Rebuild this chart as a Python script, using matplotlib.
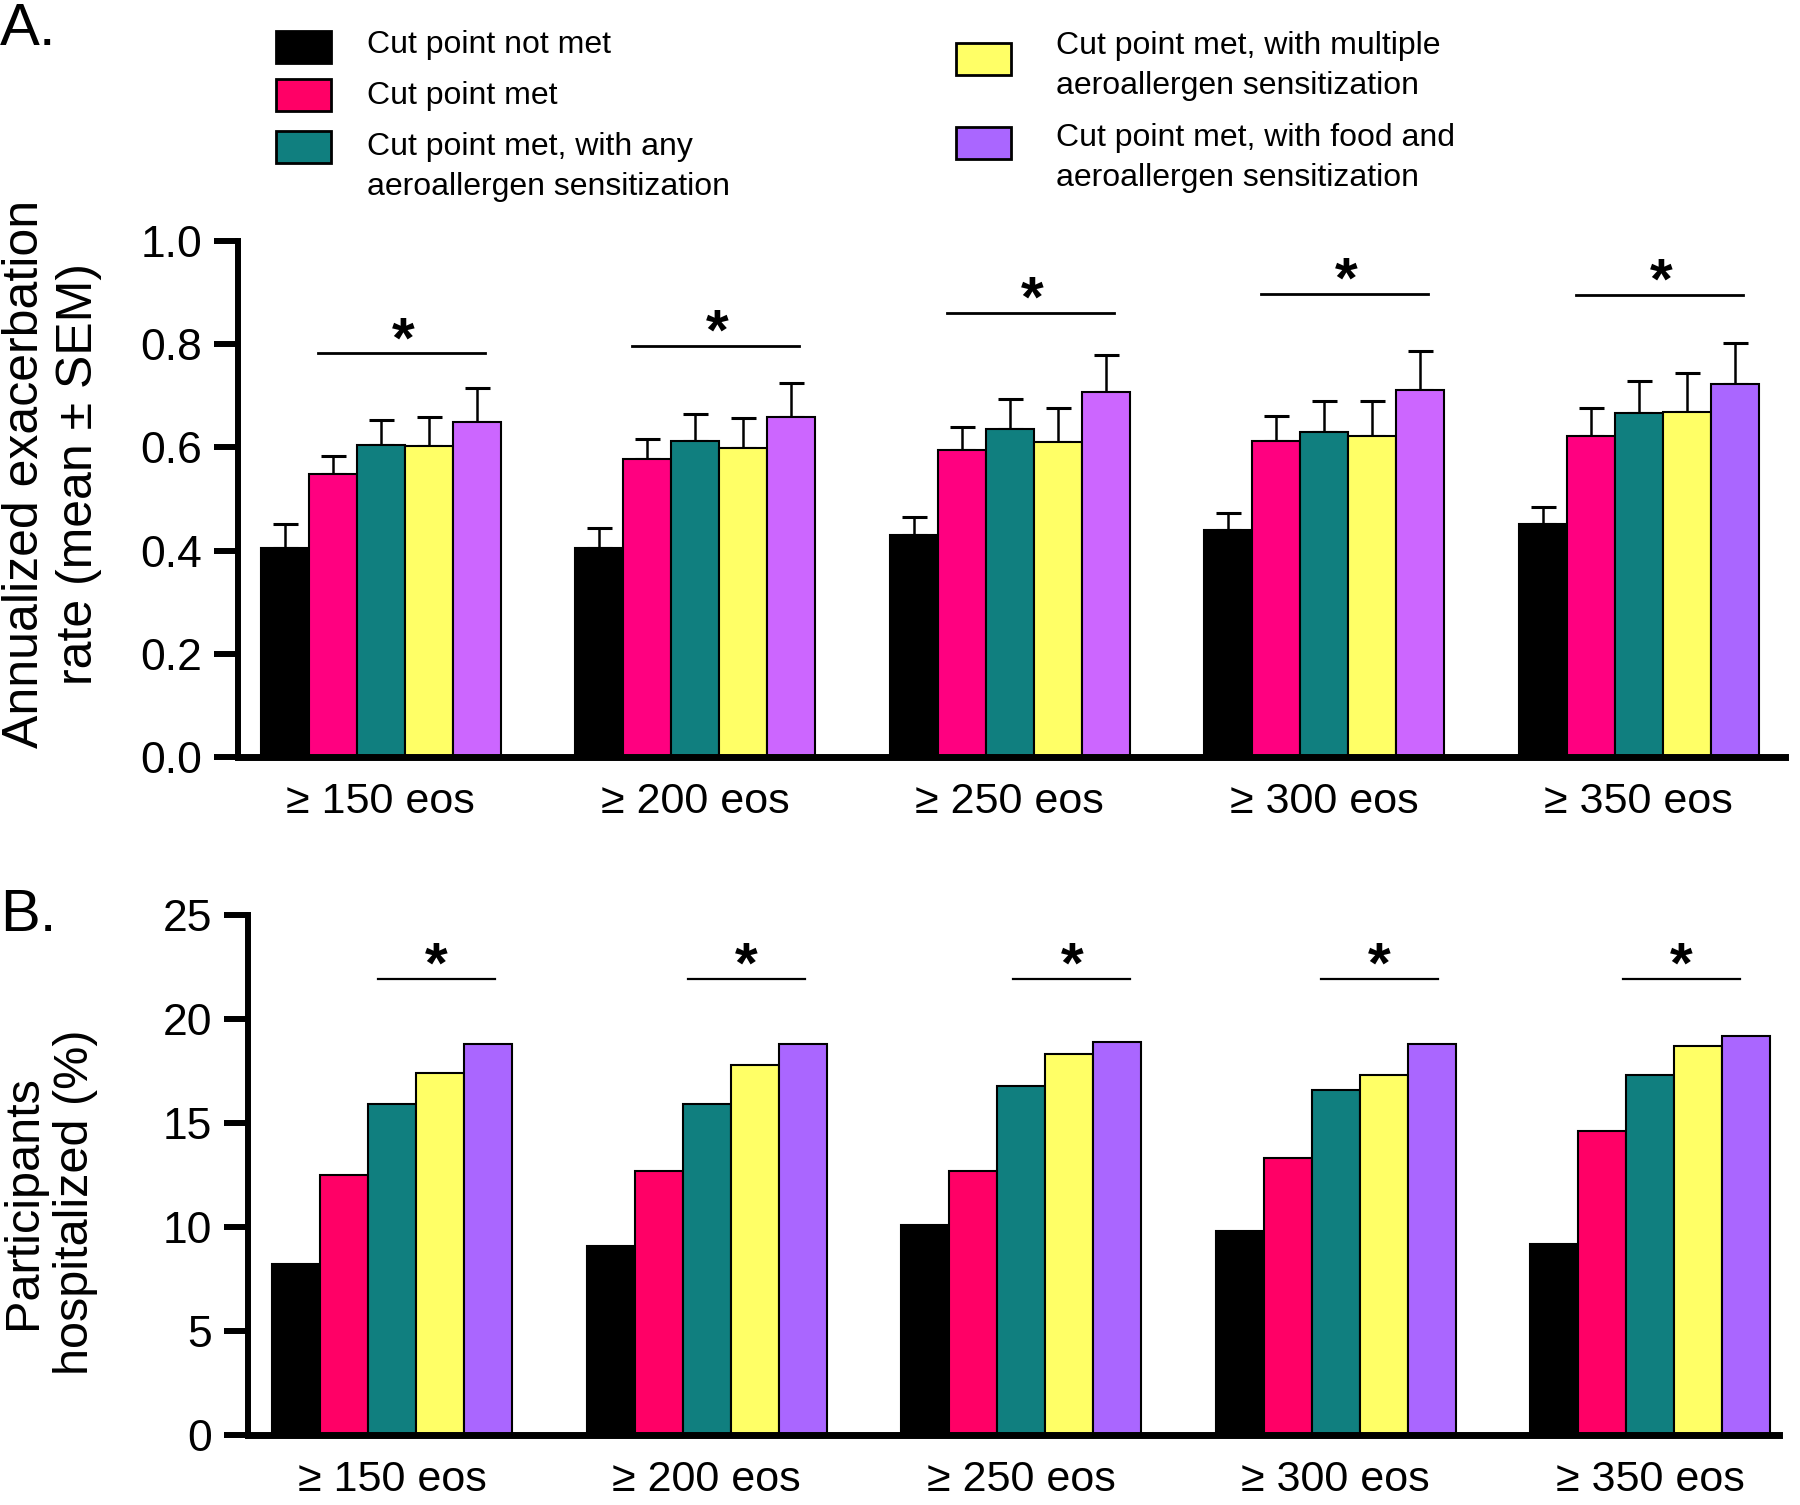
import numpy as np
import matplotlib
matplotlib.use('Agg')
from matplotlib import pyplot as plt
from matplotlib.patches import Rectangle

plt.rcParams['font.family'] = ['Liberation Sans', 'DejaVu Sans']

# groups on the x axis
groups = ['\u2265 150 eos', '\u2265 200 eos', '\u2265 250 eos', '\u2265 300 eos', '\u2265 350 eos']

series_names = ['Cut point not met',
                'Cut point met',
                'Cut point met, with any\naeroallergen sensitization',
                'Cut point met, with multiple\naeroallergen sensitization',
                'Cut point met, with food and\naeroallergen sensitization']

# panel A: annualized exacerbation rate (mean) and SEM
rate_not_met = [0.405, 0.405, 0.430, 0.440, 0.451]
rate_met = [0.548, 0.577, 0.594, 0.612, 0.623]
rate_any = [0.605, 0.613, 0.636, 0.630, 0.666]
rate_multi = [0.602, 0.599, 0.611, 0.623, 0.669]
rate_food = [0.650, 0.659, 0.707, 0.712, 0.723]

sem_not_met = [0.046, 0.038, 0.035, 0.033, 0.034]
sem_met = [0.035, 0.040, 0.045, 0.049, 0.053]
sem_any = [0.049, 0.052, 0.058, 0.059, 0.063]
sem_multi = [0.057, 0.058, 0.065, 0.067, 0.075]
sem_food = [0.065, 0.066, 0.073, 0.075, 0.079]

# significance bar heights, panel A
sig_a = [0.782, 0.797, 0.860, 0.898, 0.896]

# panel B: participants hospitalized (%)
hosp_not_met = [8.2, 9.1, 10.1, 9.8, 9.2]
hosp_met = [12.5, 12.7, 12.7, 13.3, 14.6]
hosp_any = [15.9, 15.9, 16.8, 16.6, 17.3]
hosp_multi = [17.4, 17.8, 18.3, 17.3, 18.7]
hosp_food = [18.8, 18.8, 18.9, 18.8, 19.2]

sig_b = [21.9, 21.9, 21.9, 21.9, 21.9]

# colours
colors_a = ['#000000', '#FF0080', '#107F7F', '#FFFF66', '#CC66FF']
colors_b = ['#000000', '#FF0066', '#107F7F', '#FFFF66', '#AA66FF']
food_a_colors = ['#CC66FF', '#CC66FF', '#CC66FF', '#CC66FF', '#AA66FF']

W, H = 1800, 1505
fig = plt.figure(figsize=(W / 100, H / 100), dpi=100)

x = np.arange(len(groups))
bw = 0.1526
offsets = (np.arange(5) - 2) * bw
# start of the significance line in panel B, relative to group centre
sig_b_start = [-0.046, -0.06, -0.024, -0.047, -0.086]


def style_axis(ax):
    for s in ['top', 'right']:
        ax.spines[s].set_visible(False)
    ax.spines['left'].set_linewidth(4.3)
    ax.spines['bottom'].set_linewidth(5)
    ax.tick_params(axis='y', length=17, width=4.3, pad=9, labelsize=32)
    ax.tick_params(axis='x', length=0, pad=18, labelsize=31)
    ax.set_xticks(x)
    ax.set_xticklabels(groups)


# ---- panel A ----
axA = fig.add_axes([238 / W, 1 - 757 / H, (1785 - 238) / W, (757 - 241) / H])
rates = [rate_not_met, rate_met, rate_any, rate_multi, rate_food]
sems = [sem_not_met, sem_met, sem_any, sem_multi, sem_food]
for i in range(5):
    cols = food_a_colors if i == 4 else colors_a[i]
    axA.bar(x + offsets[i], rates[i], bw, color=cols, edgecolor='black',
            linewidth=1.5, zorder=2)
    axA.errorbar(x + offsets[i], rates[i],
                 yerr=[np.zeros(len(groups)), sems[i]],
                 fmt='none', ecolor='black', elinewidth=1.8, capsize=9,
                 capthick=2.2, zorder=1)
for j in range(len(groups)):
    axA.plot([x[j] - 0.2, x[j] + 0.33], [sig_a[j], sig_a[j]], color='black', lw=2)
    axA.text(x[j] + 0.07, sig_a[j] + 0.022, '*', ha='center', va='center',
             fontsize=42, fontweight='bold')
axA.set_ylim(0, 1.0)
axA.set_yticks(np.arange(0, 1.01, 0.2))
axA.set_yticklabels(['%.1f' % v for v in np.arange(0, 1.01, 0.2)])
axA.set_xlim(-0.454, 4.465)
style_axis(axA)

# ---- panel B ----
axB = fig.add_axes([248 / W, 1 - 1435 / H, (1779 - 248) / W, (1435 - 915) / H])
hosp = [hosp_not_met, hosp_met, hosp_any, hosp_multi, hosp_food]
for i in range(5):
    axB.bar(x + offsets[i], hosp[i], bw, color=colors_b[i], edgecolor='black',
            linewidth=1.5, zorder=2)
for j in range(len(groups)):
    x0 = x[j] + sig_b_start[j]
    axB.plot([x0, x0 + 0.372], [sig_b[j], sig_b[j]], color='black', lw=1.6)
    axB.text(x0 + 0.186, sig_b[j] + 0.55, '*', ha='center', va='center',
             fontsize=42, fontweight='bold')
axB.set_ylim(0, 25)
axB.set_yticks([0, 5, 10, 15, 20, 25])
axB.set_xlim(-0.458, 4.41)
style_axis(axB)

# axis titles and panel letters
fig.text(52 / W, 1 - 474 / H, 'Annualized exacerbation\nrate (mean \u00b1 SEM)',
         rotation=90, ha='center', va='center', fontsize=36, multialignment='center')
fig.text(50 / W, 1 - 1202 / H, 'Participants\nhospitalized (%)',
         rotation=90, ha='center', va='center', fontsize=35, multialignment='center')
fig.text(0, 1 - 2 / H, 'A.', ha='left', va='top', fontsize=43)
fig.text(0, 1 - 888 / H, 'B.', ha='left', va='top', fontsize=43)

# legend drawn by hand in two columns
legend_items = [
    (276, 47, 367, 45, 0),
    (276, 95, 367, 96, 1),
    (276, 147, 367, 167, 2),
    (956, 59, 1056, 66, 3),
    (956, 143, 1056, 158, 4),
]
for px, py, tx, ty, k in legend_items:
    fig.add_artist(Rectangle((px / W, 1 - (py + 16) / H), 55 / W, 32 / H,
                             transform=fig.transFigure, facecolor=colors_b[k],
                             edgecolor='black', linewidth=2))
    fig.text(tx / W, 1 - ty / H, series_names[k], ha='left', va='center',
             fontsize=23, linespacing=1.4)

fig.savefig('out.png', dpi=100)
